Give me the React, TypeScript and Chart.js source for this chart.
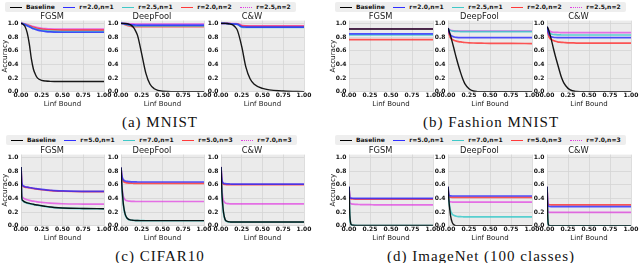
import React, { useEffect, useRef } from "react";
import { Chart, registerables } from "chart.js";
Chart.register(...registerables);

// ---------- data ----------
const X_VALUES = [0, 0.01, 0.02, 0.03, 0.05, 0.075, 0.1, 0.125, 0.15, 0.175, 0.2, 0.25, 0.3, 0.35, 0.4, 0.5, 0.75, 1.0];
const X_TICKS = [0, 0.25, 0.5, 0.75, 1.0];
const Y_TICKS = [0, 0.2, 0.4, 0.6, 0.8, 1.0];
const ATTACKS = ["FGSM", "DeepFool", "C&W"];
const LEGEND_R2 = ["Baseline", "r=2.0,n=1", "r=2.5,n=1", "r=2.0,n=2", "r=2.5,n=2"];
const LEGEND_R5 = ["Baseline", "r=5.0,n=1", "r=7.0,n=1", "r=5.0,n=3", "r=7.0,n=3"];
const CAPTIONS = ["(a) MNIST", "(b) Fashion MNIST", "(c) CIFAR10", "(d) ImageNet (100 classes)"];
const X_LABEL = "Linf Bound";
const Y_LABEL = "Accuracy";

// each: [Baseline, series1, series2, series3, series4]
const MNIST_FGSM = [
  [1.0, 0.997, 0.99, 0.98, 0.95, 0.86, 0.7, 0.48, 0.33, 0.25, 0.2, 0.168, 0.157, 0.153, 0.151, 0.15, 0.15, 0.15],
  [1.0, 0.998, 0.995, 0.99, 0.98, 0.965, 0.95, 0.935, 0.92, 0.91, 0.9, 0.888, 0.88, 0.875, 0.872, 0.87, 0.87, 0.87],
  [1.0, 0.998, 0.996, 0.992, 0.983, 0.97, 0.955, 0.94, 0.928, 0.918, 0.91, 0.898, 0.89, 0.885, 0.882, 0.88, 0.88, 0.88],
  [1.0, 0.999, 0.997, 0.994, 0.987, 0.976, 0.965, 0.953, 0.942, 0.933, 0.925, 0.915, 0.91, 0.906, 0.904, 0.902, 0.9, 0.9],
  [1.0, 0.999, 0.998, 0.996, 0.99, 0.982, 0.972, 0.962, 0.953, 0.945, 0.938, 0.928, 0.922, 0.918, 0.916, 0.915, 0.915, 0.915],
];
const MNIST_DEEPFOOL = [
  [1.0, 1.0, 1.0, 1.0, 0.998, 0.994, 0.985, 0.97, 0.94, 0.89, 0.82, 0.55, 0.27, 0.11, 0.045, 0.008, 0.0, 0.0],
  [1.0, 0.999, 0.998, 0.996, 0.992, 0.987, 0.982, 0.979, 0.977, 0.976, 0.975, 0.975, 0.975, 0.975, 0.975, 0.975, 0.975, 0.975],
  [1.0, 0.999, 0.997, 0.994, 0.988, 0.98, 0.972, 0.967, 0.965, 0.964, 0.963, 0.963, 0.963, 0.963, 0.963, 0.963, 0.963, 0.963],
  [1.0, 0.998, 0.995, 0.99, 0.98, 0.97, 0.962, 0.956, 0.953, 0.951, 0.95, 0.95, 0.95, 0.95, 0.95, 0.95, 0.95, 0.95],
  [1.0, 1.0, 0.999, 0.999, 0.998, 0.996, 0.994, 0.992, 0.991, 0.99, 0.99, 0.99, 0.99, 0.99, 0.99, 0.99, 0.99, 0.99],
];
const MNIST_CW = [
  [1.0, 1.0, 1.0, 1.0, 0.999, 0.997, 0.993, 0.985, 0.97, 0.94, 0.89, 0.66, 0.36, 0.19, 0.11, 0.05, 0.012, 0.002],
  [1.0, 1.0, 1.0, 0.999, 0.998, 0.997, 0.995, 0.993, 0.99, 0.988, 0.985, 0.95, 0.946, 0.945, 0.945, 0.945, 0.945, 0.945],
  [1.0, 1.0, 1.0, 0.999, 0.998, 0.996, 0.994, 0.992, 0.989, 0.987, 0.984, 0.945, 0.941, 0.94, 0.94, 0.94, 0.94, 0.94],
  [1.0, 1.0, 1.0, 1.0, 0.999, 0.998, 0.996, 0.994, 0.992, 0.99, 0.988, 0.962, 0.958, 0.957, 0.957, 0.957, 0.957, 0.957],
  [1.0, 1.0, 1.0, 1.0, 1.0, 0.999, 0.998, 0.997, 0.996, 0.995, 0.994, 0.97, 0.965, 0.965, 0.965, 0.965, 0.965, 0.965],
];
const FASHION_FGSM = [
  [0.918, 0.918, 0.918, 0.918, 0.918, 0.918, 0.918, 0.918, 0.918, 0.918, 0.918, 0.918, 0.918, 0.918, 0.918, 0.918, 0.918, 0.918],
  [0.845, 0.845, 0.845, 0.845, 0.845, 0.845, 0.845, 0.845, 0.845, 0.845, 0.845, 0.845, 0.845, 0.845, 0.845, 0.845, 0.845, 0.845],
  [0.83, 0.83, 0.83, 0.83, 0.83, 0.83, 0.83, 0.83, 0.83, 0.83, 0.83, 0.83, 0.83, 0.83, 0.83, 0.83, 0.83, 0.83],
  [0.762, 0.762, 0.762, 0.762, 0.762, 0.762, 0.762, 0.762, 0.762, 0.762, 0.762, 0.762, 0.762, 0.762, 0.762, 0.762, 0.762, 0.762],
  [0.92, 0.92, 0.92, 0.92, 0.92, 0.92, 0.92, 0.92, 0.92, 0.92, 0.92, 0.92, 0.92, 0.92, 0.92, 0.92, 0.92, 0.92],
];
const FASHION_DEEPFOOL = [
  [0.93, 0.9, 0.86, 0.82, 0.73, 0.61, 0.49, 0.38, 0.28, 0.19, 0.12, 0.045, 0.012, 0.003, 0.0, 0.0, 0.0, 0.0],
  [0.93, 0.88, 0.85, 0.83, 0.81, 0.8, 0.795, 0.792, 0.79, 0.79, 0.79, 0.79, 0.79, 0.79, 0.79, 0.79, 0.79, 0.79],
  [0.93, 0.912, 0.9, 0.895, 0.888, 0.884, 0.882, 0.881, 0.88, 0.88, 0.88, 0.88, 0.88, 0.88, 0.88, 0.88, 0.88, 0.88],
  [0.93, 0.86, 0.82, 0.79, 0.765, 0.75, 0.74, 0.733, 0.728, 0.724, 0.72, 0.716, 0.713, 0.711, 0.71, 0.708, 0.706, 0.705],
  [0.93, 0.915, 0.905, 0.9, 0.893, 0.89, 0.888, 0.887, 0.886, 0.886, 0.885, 0.885, 0.885, 0.885, 0.885, 0.885, 0.885, 0.885],
];
const FASHION_CW = [
  [0.95, 0.93, 0.9, 0.86, 0.77, 0.64, 0.52, 0.41, 0.3, 0.2, 0.13, 0.05, 0.015, 0.004, 0.001, 0.0, 0.0, 0.0],
  [0.95, 0.89, 0.85, 0.825, 0.805, 0.797, 0.793, 0.791, 0.79, 0.79, 0.79, 0.79, 0.79, 0.79, 0.79, 0.79, 0.79, 0.79],
  [0.95, 0.91, 0.88, 0.86, 0.845, 0.837, 0.834, 0.832, 0.831, 0.83, 0.83, 0.83, 0.83, 0.83, 0.83, 0.83, 0.83, 0.83],
  [0.95, 0.87, 0.82, 0.79, 0.765, 0.748, 0.738, 0.73, 0.725, 0.722, 0.72, 0.716, 0.714, 0.712, 0.711, 0.71, 0.71, 0.71],
  [0.95, 0.92, 0.9, 0.888, 0.876, 0.87, 0.868, 0.867, 0.866, 0.865, 0.865, 0.865, 0.865, 0.865, 0.865, 0.865, 0.865, 0.865],
];
const CIFAR_FGSM = [
  [0.86, 0.4, 0.37, 0.36, 0.345, 0.335, 0.327, 0.32, 0.314, 0.308, 0.303, 0.293, 0.283, 0.275, 0.268, 0.26, 0.253, 0.25],
  [0.86, 0.63, 0.59, 0.58, 0.57, 0.564, 0.559, 0.554, 0.549, 0.544, 0.539, 0.531, 0.524, 0.519, 0.515, 0.509, 0.504, 0.503],
  [0.86, 0.39, 0.365, 0.355, 0.342, 0.332, 0.324, 0.317, 0.311, 0.305, 0.3, 0.29, 0.28, 0.272, 0.266, 0.258, 0.251, 0.248],
  [0.86, 0.62, 0.585, 0.575, 0.565, 0.56, 0.555, 0.55, 0.545, 0.54, 0.535, 0.527, 0.52, 0.515, 0.51, 0.505, 0.5, 0.5],
  [0.86, 0.45, 0.415, 0.405, 0.39, 0.38, 0.372, 0.365, 0.36, 0.355, 0.35, 0.343, 0.337, 0.332, 0.328, 0.322, 0.318, 0.316],
];
const CIFAR_DEEPFOOL = [
  [0.85, 0.6, 0.43, 0.3, 0.17, 0.11, 0.09, 0.083, 0.08, 0.078, 0.077, 0.076, 0.075, 0.075, 0.075, 0.075, 0.075, 0.075],
  [0.85, 0.74, 0.69, 0.67, 0.655, 0.648, 0.645, 0.643, 0.642, 0.641, 0.64, 0.64, 0.64, 0.64, 0.64, 0.64, 0.64, 0.64],
  [0.85, 0.59, 0.42, 0.29, 0.165, 0.108, 0.088, 0.081, 0.078, 0.077, 0.076, 0.075, 0.074, 0.074, 0.074, 0.074, 0.074, 0.074],
  [0.85, 0.72, 0.67, 0.648, 0.633, 0.627, 0.624, 0.622, 0.621, 0.62, 0.62, 0.62, 0.62, 0.62, 0.62, 0.62, 0.62, 0.62],
  [0.85, 0.6, 0.48, 0.42, 0.38, 0.365, 0.36, 0.357, 0.356, 0.355, 0.355, 0.355, 0.355, 0.355, 0.355, 0.355, 0.355, 0.355],
];
const CIFAR_CW = [
  [0.86, 0.5, 0.32, 0.2, 0.09, 0.065, 0.058, 0.056, 0.055, 0.055, 0.055, 0.055, 0.055, 0.055, 0.055, 0.055, 0.055, 0.055],
  [0.86, 0.68, 0.635, 0.622, 0.615, 0.612, 0.611, 0.61, 0.61, 0.61, 0.61, 0.61, 0.61, 0.61, 0.61, 0.61, 0.61, 0.61],
  [0.86, 0.49, 0.31, 0.19, 0.085, 0.062, 0.056, 0.054, 0.053, 0.053, 0.053, 0.053, 0.053, 0.053, 0.053, 0.053, 0.053, 0.053],
  [0.86, 0.67, 0.625, 0.61, 0.603, 0.601, 0.6, 0.6, 0.6, 0.6, 0.6, 0.6, 0.6, 0.6, 0.6, 0.6, 0.6, 0.6],
  [0.86, 0.55, 0.42, 0.37, 0.335, 0.325, 0.322, 0.32, 0.32, 0.32, 0.32, 0.32, 0.32, 0.32, 0.32, 0.32, 0.32, 0.32],
];
const IMAGENET_FGSM = [
  [0.57, 0.15, 0.04, 0.015, 0.008, 0.006, 0.005, 0.005, 0.005, 0.005, 0.005, 0.005, 0.005, 0.005, 0.005, 0.005, 0.005, 0.005],
  [0.57, 0.41, 0.405, 0.403, 0.402, 0.401, 0.4, 0.4, 0.4, 0.4, 0.4, 0.4, 0.4, 0.4, 0.4, 0.4, 0.4, 0.4],
  [0.57, 0.13, 0.035, 0.012, 0.007, 0.005, 0.004, 0.004, 0.004, 0.004, 0.004, 0.004, 0.004, 0.004, 0.004, 0.004, 0.004, 0.004],
  [0.57, 0.4, 0.395, 0.393, 0.392, 0.391, 0.39, 0.39, 0.39, 0.39, 0.39, 0.39, 0.39, 0.39, 0.39, 0.39, 0.39, 0.39],
  [0.57, 0.34, 0.325, 0.32, 0.316, 0.313, 0.312, 0.311, 0.31, 0.31, 0.309, 0.308, 0.307, 0.306, 0.306, 0.305, 0.305, 0.305],
];
const IMAGENET_DEEPFOOL = [
  [0.57, 0.38, 0.25, 0.15, 0.05, 0.01, 0.002, 0.0, 0.0, 0.0, 0.0, 0.0, 0.0, 0.0, 0.0, 0.0, 0.0, 0.0],
  [0.57, 0.45, 0.44, 0.437, 0.435, 0.435, 0.435, 0.435, 0.435, 0.435, 0.435, 0.435, 0.435, 0.435, 0.435, 0.435, 0.435, 0.435],
  [0.57, 0.38, 0.28, 0.22, 0.17, 0.15, 0.14, 0.135, 0.133, 0.132, 0.131, 0.13, 0.13, 0.13, 0.13, 0.13, 0.13, 0.13],
  [0.57, 0.43, 0.42, 0.417, 0.415, 0.415, 0.415, 0.415, 0.415, 0.415, 0.415, 0.415, 0.415, 0.415, 0.415, 0.415, 0.415, 0.415],
  [0.57, 0.37, 0.355, 0.35, 0.347, 0.346, 0.345, 0.345, 0.345, 0.345, 0.345, 0.345, 0.345, 0.345, 0.345, 0.345, 0.345, 0.345],
];
const IMAGENET_CW = [
  [0.57, 0.1, 0.01, 0.002, 0.0, 0.0, 0.0, 0.0, 0.0, 0.0, 0.0, 0.0, 0.0, 0.0, 0.0, 0.0, 0.0, 0.0],
  [0.57, 0.3, 0.285, 0.282, 0.28, 0.28, 0.28, 0.28, 0.28, 0.28, 0.28, 0.28, 0.28, 0.28, 0.28, 0.28, 0.28, 0.28],
  [0.57, 0.08, 0.008, 0.001, 0.0, 0.0, 0.0, 0.0, 0.0, 0.0, 0.0, 0.0, 0.0, 0.0, 0.0, 0.0, 0.0, 0.0],
  [0.57, 0.32, 0.31, 0.307, 0.305, 0.305, 0.305, 0.305, 0.305, 0.305, 0.305, 0.305, 0.305, 0.305, 0.305, 0.305, 0.305, 0.305],
  [0.57, 0.22, 0.2, 0.197, 0.195, 0.195, 0.195, 0.195, 0.195, 0.195, 0.195, 0.195, 0.195, 0.195, 0.195, 0.195, 0.195, 0.195],
];

// ---------- styles ----------
const LINE_COLORS = ["rgba(0,0,0,0.9)", "rgba(40,40,255,0.8)", "rgba(50,200,200,0.8)", "rgba(255,45,45,0.8)", "rgba(225,45,225,0.65)"];
const LEGEND_COLORS = ["#000", "#3030ff", "#40c8c8", "#ff3a3a", "#e040e0"];
const SANS = '"DejaVu Sans", sans-serif';
const PLOT_BG = "#ebebeb";
const GRID_COLOR = "#d4d4d4";

const Y_AXIS_W = 21;
const RIGHT_PAD = 12;
const TITLE_SIZE = 8.3;
const TITLE_LH = 0.8;
const TITLE_H = TITLE_SIZE * TITLE_LH;
const PLOT_H = 71.2;
const X_AXIS_H = 16.2;
const TOP_PAD = 5;
const CANVAS_H = TOP_PAD + TITLE_H + PLOT_H + X_AXIS_H;

const bgPlugin = {
  id: "plotBg",
  beforeDraw(chart: any) {
    const { ctx, chartArea: a } = chart;
    ctx.save();
    ctx.fillStyle = PLOT_BG;
    ctx.fillRect(a.left, a.top, a.right - a.left, a.bottom - a.top);
    ctx.restore();
  },
};

function Subplot(props: { left: number; plotTop: number; plotW: number; title: string; series: number[][]; labels: string[]; showY: boolean }) {
  const { left, plotTop, plotW, title, series, labels, showY } = props;
  const ref = useRef<HTMLCanvasElement | null>(null);
  const width = Y_AXIS_W + plotW + RIGHT_PAD;
  const canvasTop = Math.floor(plotTop - TITLE_H - TOP_PAD);
  const padTop = plotTop - TITLE_H - canvasTop;
  const height = Math.round(padTop + TITLE_H + PLOT_H + X_AXIS_H);
  const xAxisH = height - padTop - TITLE_H - PLOT_H;
  useEffect(() => {
    if (!ref.current) return;
    const chart = new Chart(ref.current, {
      type: "line",
      data: {
        datasets: series.map((ys, i) => ({
          label: labels[i],
          data: X_VALUES.map((x, j) => ({ x, y: ys[j] })),
          borderColor: LINE_COLORS[i],
          backgroundColor: LINE_COLORS[i],
          borderWidth: i === 0 ? 1.4 : 1.7,
          pointRadius: 0,
          fill: false,
          cubicInterpolationMode: "monotone",
        })),
      },
      options: {
        responsive: false,
        maintainAspectRatio: false,
        animation: false,
        events: [],
        layout: { padding: { left: 0, right: RIGHT_PAD, top: padTop, bottom: 0 } },
        plugins: {
          legend: { display: false },
          tooltip: { enabled: false },
          title: {
            display: true,
            text: title,
            color: "#1a1a1a",
            font: { family: SANS, size: TITLE_SIZE, weight: "normal", lineHeight: TITLE_LH },
            padding: 0,
          },
        },
        scales: {
          x: {
            type: "linear",
            min: 0,
            max: 1,
            afterBuildTicks: (s: any) => {
              s.ticks = X_TICKS.map((v) => ({ value: v }));
            },
            afterFit: (s: any) => {
              s.height = xAxisH;
            },
            ticks: {
              padding: 0.5,
              color: "#111",
              maxRotation: 0,
              autoSkip: false,
              font: { family: SANS, size: 6, weight: "bold" },
              callback: (v: any) => Number(v).toFixed(2),
            },
            grid: { color: GRID_COLOR, lineWidth: 0.8, drawTicks: false },
            border: { display: false },
            title: { display: true, text: X_LABEL, color: "#1a1a1a", font: { family: SANS, size: 7 }, padding: 0 },
          },
          y: {
            type: "linear",
            min: 0,
            max: 1.04,
            afterBuildTicks: (s: any) => {
              s.ticks = Y_TICKS.map((v) => ({ value: v }));
            },
            afterFit: (s: any) => {
              s.width = Y_AXIS_W;
            },
            ticks: {
              padding: 2.5,
              color: "#111",
              font: { family: SANS, size: 6, weight: "bold" },
              callback: (v: any) => Number(v).toFixed(1),
            },
            grid: { color: GRID_COLOR, lineWidth: 0.8, drawTicks: false },
            border: { display: false },
            title: { display: showY, text: Y_LABEL, color: "#1a1a1a", font: { family: SANS, size: 7.2 }, padding: { top: 0.7, bottom: 0 } },
          },
        },
      } as any,
      plugins: [bgPlugin],
    });
    return () => chart.destroy();
  }, []);
  return (
    <canvas
      ref={ref}
      width={width}
      height={height}
      style={{ position: "absolute", left, top: canvasTop, width, height }}
    />
  );
}

function Legend(props: { left: number; top: number; labels: string[] }) {
  const { left, top, labels } = props;
  return (
    <div
      style={{
        position: "absolute",
        left,
        top,
        height: 10,
        display: "flex",
        alignItems: "center",
        gap: 8.6,
        padding: "0 5px 0 5px",
        background: "#eeeeee",
        borderRadius: 2,
        fontFamily: SANS,
        fontWeight: "bold",
        fontSize: 6,
        color: "#111",
        whiteSpace: "nowrap",
        boxSizing: "border-box",
      }}
    >
      {labels.map((l, i) => (
        <div key={i} style={{ display: "flex", alignItems: "center", gap: 4 }}>
          <span
            style={{
              display: "inline-block",
              width: 12,
              height: 0,
              borderTop: `1.5px ${i === 4 ? "dotted" : "solid"} ${LEGEND_COLORS[i]}`,
            }}
          />
          <span style={{ lineHeight: "10px" }}>{l}</span>
        </div>
      ))}
    </div>
  );
}

function Caption(props: { center: number; y: number; text: string }) {
  const { center, y, text } = props;
  return (
    <div
      style={{
        position: "absolute",
        left: center - 150,
        width: 300,
        top: y - 8,
        height: 16,
        lineHeight: "16px",
        textAlign: "center",
        fontFamily: '"Liberation Serif", serif',
        fontSize: 15,
        letterSpacing: 1,
        color: "#111",
        whiteSpace: "nowrap",
      }}
    >
      {text}
    </div>
  );
}

const PANELS = [
  { caption: CAPTIONS[0], labels: LEGEND_R2, data: [MNIST_FGSM, MNIST_DEEPFOOL, MNIST_CW] },
  { caption: CAPTIONS[1], labels: LEGEND_R2, data: [FASHION_FGSM, FASHION_DEEPFOOL, FASHION_CW] },
  { caption: CAPTIONS[2], labels: LEGEND_R5, data: [CIFAR_FGSM, CIFAR_DEEPFOOL, CIFAR_CW] },
  { caption: CAPTIONS[3], labels: LEGEND_R5, data: [IMAGENET_FGSM, IMAGENET_DEEPFOOL, IMAGENET_CW] },
];

// layout (positions only)
const LAYOUT = [
  { plotLefts: [21, 121, 221], plotW: 83, plotTop: 20.6, legendX: 5, legendY: 2, capX: 160, capY: 122 },
  { plotLefts: [349, 448, 547], plotW: 84, plotTop: 20.6, legendX: 335, legendY: 2, capX: 491, capY: 122 },
  { plotLefts: [21, 121, 221], plotW: 83, plotTop: 154.6, legendX: 6, legendY: 135, capX: 160, capY: 256 },
  { plotLefts: [349, 448, 547], plotW: 84, plotTop: 154.6, legendX: 335, legendY: 135, capX: 481, capY: 256 },
];

export default function App() {
  return (
    <div style={{ position: "fixed", left: 0, top: 0, width: 640, height: 263, background: "#fff", overflow: "hidden" }}>
      {PANELS.map((p, pi) => {
        const L = LAYOUT[pi];
        return (
          <React.Fragment key={pi}>
            {p.data.map((series, si) => (
              <Subplot
                key={si}
                left={L.plotLefts[si] - Y_AXIS_W}
                plotTop={L.plotTop}
                plotW={L.plotW}
                title={ATTACKS[si]}
                series={series}
                labels={p.labels}
                showY={si === 0}
              />
            ))}
            <Legend left={L.legendX} top={L.legendY} labels={p.labels} />
            <Caption center={L.capX} y={L.capY} text={p.caption} />
          </React.Fragment>
        );
      })}
    </div>
  );
}
